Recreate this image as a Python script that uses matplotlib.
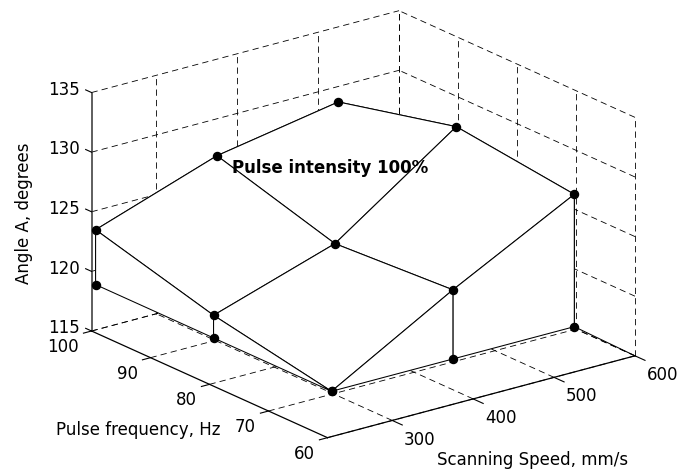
import numpy as np
import matplotlib
matplotlib.use("Agg")
import matplotlib.pyplot as plt
from mpl_toolkits.mplot3d import proj3d

plt.rcParams['font.family'] = ['DejaVu Sans']
plt.rcParams['lines.scale_dashes'] = False

# Measured angle A (rows: pulse frequency, columns: scanning speed)
speed = np.array([225, 375, 525])
freq = np.array([100, 80, 60])
angle = np.array([[123.4, 126.9, 128.7],
                  [120.7, 124.0, 131.1],
                  [118.8, 124.6, 129.9]])
speed_ticks = [300, 400, 500, 600]
freq_ticks = [60, 70, 80, 90, 100]
angle_ticks = [115, 120, 125, 130, 135]
speed_lim = (220, 600)
freq_lim = (60, 100)
angle_lim = (115, 135)

fig = plt.figure(figsize=(6.97, 4.70), dpi=100)
ax = fig.add_axes([-0.1934, -0.2986, 1.4, 1.6], projection='3d', proj_type='ortho')
ax.set_axis_off()
ax.computed_zorder = False
ax.view_init(elev=20.3, azim=-127.5)
ax.set_xlim(*speed_lim)
ax.set_ylim(*freq_lim)
ax.set_zlim(*angle_lim)
ax.set_box_aspect((1, 1, 0.656), zoom=0.78)

s0, s1 = speed_lim
f0, f1 = freq_lim
z0, z1 = angle_lim

grid_kw = dict(color='black', lw=0.6, ls=(0, (4.5, 3.0)), zorder=1)
# back wall at the highest frequency
for s in speed_ticks:
    ax.plot([s, s], [f1, f1], [z0, z1], **grid_kw)
for z in angle_ticks:
    ax.plot([s0, s1], [f1, f1], [z, z], **grid_kw)
# back wall at the highest speed
for f in freq_ticks:
    ax.plot([s1, s1], [f, f], [z0, z1], **grid_kw)
for z in angle_ticks:
    ax.plot([s1, s1], [f0, f1], [z, z], **grid_kw)
# floor
for s in speed_ticks:
    ax.plot([s, s], [f0, f1], [z0, z0], **grid_kw)
for f in freq_ticks:
    ax.plot([s0, s1], [f, f], [z0, z0], **grid_kw)

# axis lines
ax.plot([s0, s0], [f1, f1], [z0, z1], color='#333333', lw=1.1, zorder=1.5)
ax.plot([s0, s0], [f0, f1], [z0, z0], color='black', lw=0.9, zorder=1.5)
ax.plot([s0, s1], [f0, f0], [z0, z0], color='black', lw=0.9, zorder=1.5)

# tick marks
tick_kw = dict(color='black', lw=0.8, zorder=1.5)
for z in angle_ticks:
    ax.plot([s0, s0], [f1, f1 + 1.0], [z, z], **tick_kw)
for f in freq_ticks:
    ax.plot([s0, s0 - 10], [f, f], [z0, z0], **tick_kw)
for s in speed_ticks:
    ax.plot([s, s], [f0, f0 - 1.7], [z0, z0], **tick_kw)

# mesh with a curtain hanging down to the lowest measured angle
S, F = np.meshgrid(speed, freq)
zref = angle.min()
Sp = np.pad(S, 1, mode='edge')
Fp = np.pad(F, 1, mode='edge')
Zp = np.pad(angle, 1, mode='constant', constant_values=zref)
ax.plot_surface(Sp, Fp, Zp, rstride=1, cstride=1, color='white', shade=False,
                edgecolor='black', linewidth=0.75, antialiased=True, zorder=2)

# data markers: every grid point plus the curtain foot on the front edges
ax.plot(S.ravel(), F.ravel(), angle.ravel(), 'o', color='black', ms=5.8,
        ls='none', zorder=3)
foot_s = np.concatenate([S[:, 0], S[-1, 1:]])
foot_f = np.concatenate([F[:, 0], F[-1, 1:]])
ax.plot(foot_s, foot_f, np.full(foot_s.shape, zref), 'o', color='black',
        ms=5.8, ls='none', zorder=3)
# lead from the last curtain foot to the axis corner
ax.plot([speed[-1], s1], [freq[-1], f0], [zref, z0], color='black', lw=0.75, zorder=3)

# tick labels, placed in the projected plane next to each tick
fig.canvas.draw()
M = ax.get_proj()


def label_at(x, y, z, text, **kw):
    xs, ys, _ = proj3d.proj_transform(x, y, z, M)
    ax.text2D(xs, ys, text, transform=ax.transData, fontsize=12,
              color='black', zorder=5, **kw)


for z in angle_ticks:
    label_at(s0 - 14.5, f1, z + 0.5, str(z), ha='right', va='center')
for f in freq_ticks:
    label_at(s0 - 15.7, f, z0 - 1.05, str(f), ha='right', va='center')
for s in speed_ticks:
    label_at(s, f0 - 4.7, z0 - 0.55, str(s), ha='center', va='center')

fig.text(0.3329, 1 - 168 / 470, 'Pulse intensity 100%', fontsize=12,
         fontweight='bold', ha='left', va='center')
fig.text(24 / 697, 1 - 213 / 470, 'Angle A, degrees', fontsize=12,
         rotation=90, ha='center', va='center')
fig.text(138 / 697, 1 - 430 / 470, 'Pulse frequency, Hz', fontsize=12,
         ha='center', va='center')
fig.text(533 / 697, 1 - 460 / 470, 'Scanning Speed, mm/s', fontsize=12,
         ha='center', va='center')

fig.savefig("out.png", dpi=100)
